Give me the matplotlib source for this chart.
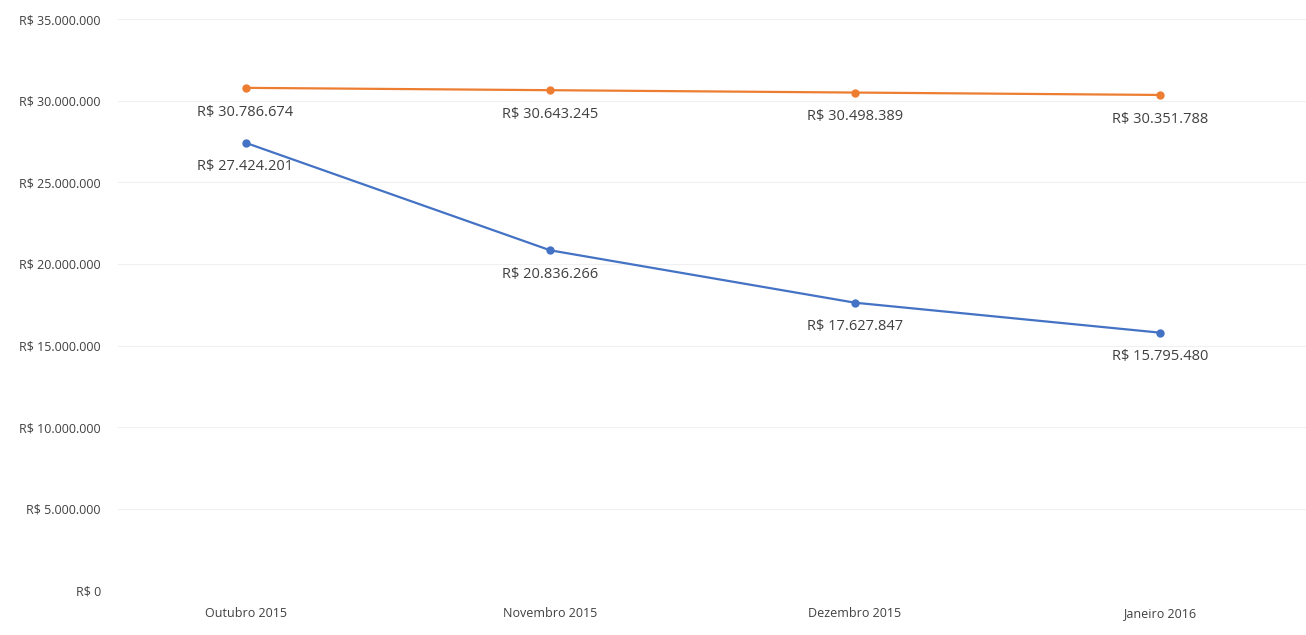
import matplotlib
matplotlib.use('Agg')
from matplotlib import pyplot as plt
from matplotlib.ticker import FuncFormatter

meses = ['Outubro 2015', 'Novembro 2015', 'Dezembro 2015', 'Janeiro 2016']
serie_laranja = [30786674, 30643245, 30498389, 30351788]
serie_azul = [27424201, 20836266, 17627847, 15795480]

plt.rcParams['font.family'] = ['Open Sans', 'DejaVu Sans']

def reais(v):
    return 'R$ ' + '{:,.0f}'.format(v).replace(',', '.')

fig = plt.figure(figsize=(13.06, 6.35), dpi=100)
ax = fig.add_axes([0.09, 0.07, 0.91, 0.9])
x = list(range(len(meses)))

ax.plot(x, serie_laranja, color='#ED7D31', lw=1.6, marker='o', ms=5)
ax.plot(x, serie_azul, color='#4472C4', lw=1.6, marker='o', ms=5)

for xi, v in zip(x, serie_laranja):
    ax.annotate(reais(v), (xi, v), xytext=(0, -12), textcoords='offset points',
                ha='center', va='top', fontsize=10.5, color='#404040')
for xi, v in zip(x, serie_azul):
    ax.annotate(reais(v), (xi, v), xytext=(0, -12), textcoords='offset points',
                ha='center', va='top', fontsize=10.5, color='#404040')

ax.set_ylim(0, 35000000)
ax.set_yticks(range(0, 35000001, 5000000))
ax.yaxis.set_major_formatter(FuncFormatter(lambda v, p: reais(v)))
ax.set_xlim(-0.42, 3.48)
ax.set_xticks(x)
ax.set_xticklabels(meses)
ax.tick_params(length=0, labelsize=9, colors='#404040', pad=12)
ax.grid(axis='y', color='#f0f0f0', lw=0.8)
for s in ax.spines.values():
    s.set_visible(False)

plt.savefig('out.png')
plt.close()
